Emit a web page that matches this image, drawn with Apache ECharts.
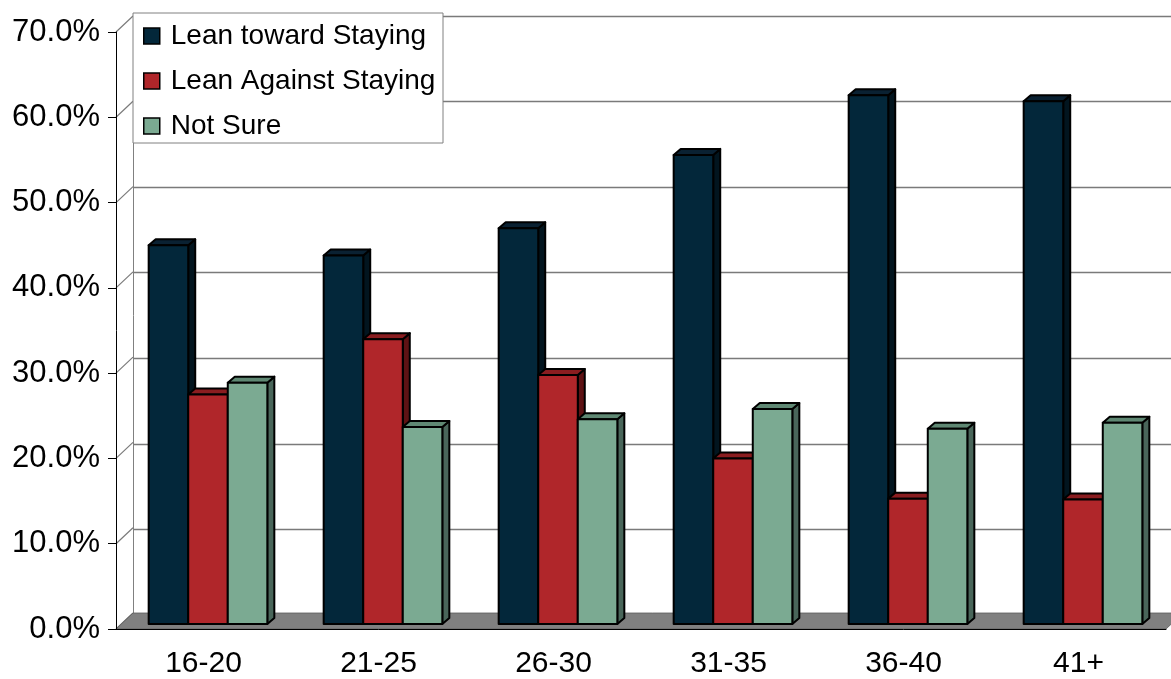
<!DOCTYPE html>
<html>
<head>
<meta charset="utf-8">
<script src="https://cdn.jsdelivr.net/npm/echarts@6/dist/echarts.min.js"></script>
<style>
  html, body { margin: 0; padding: 0; background: #fff; }
  #chart { width: 1171px; height: 679px; }
</style>
</head>
<body>
<div id="chart"></div>
<script>
// Age groups and share of respondents per answer (percent)
const categories = ['16-20', '21-25', '26-30', '31-35', '36-40', '41+'];
const leanToward = [44.4, 43.2, 46.4, 55.0, 62.0, 61.3];
const leanAgainst = [26.9, 33.4, 29.2, 19.4, 14.7, 14.6];
const notSure = [28.3, 23.1, 24.0, 25.2, 22.9, 23.6];
const seriesNames = ['Lean toward Staying', 'Lean Against Staying', 'Not Sure'];
const yMax = 70;
const yStep = 10;

// 3D look: wall depth and bar placement inside it (pixels)
const DEPTH_DX = 17, DEPTH_DY = -16;
const FRONT_DX = 4.5, FRONT_DY = -5;
const BAR_DX = 7, BAR_DY = -6;
const BAR_RATIO = 0.226;
const FONT = "'Liberation Sans', Arial, sans-serif";

const palettes = [
  { front: '#03273A', top: '#0A2132', side: '#02151F' },
  { front: '#B0262A', top: '#8A1D20', side: '#5E1214' },
  { front: '#7BAA92', top: '#5F8873', side: '#49665A' }
];

function barRenderer(idx) {
  const pal = palettes[idx];
  return function (params, api) {
    const c = api.value(0), v = api.value(1);
    const band = api.size([1, 0])[0];
    const bw = band * BAR_RATIO;
    const base = api.coord([c, 0]);
    const top = api.coord([c, v]);
    const x0 = base[0] + (idx - 1.5) * bw + FRONT_DX;
    const x1 = x0 + bw;
    const yb = base[1] + FRONT_DY;
    const yt = top[1] + FRONT_DY;
    const stroke = { stroke: '#000', lineWidth: 2, lineJoin: 'round' };
    return {
      type: 'group',
      children: [
        { type: 'polygon', shape: { points: [[x1, yt], [x1 + BAR_DX, yt + BAR_DY], [x1 + BAR_DX, yb + BAR_DY], [x1, yb]] },
          style: Object.assign({ fill: pal.side }, stroke) },
        { type: 'polygon', shape: { points: [[x0, yt], [x0 + BAR_DX, yt + BAR_DY], [x1 + BAR_DX, yt + BAR_DY], [x1, yt]] },
          style: Object.assign({ fill: pal.top }, stroke) },
        { type: 'rect', shape: { x: x0, y: yt, width: bw, height: yb - yt },
          style: Object.assign({ fill: pal.front }, stroke) }
      ]
    };
  };
}

const seriesValues = [leanToward, leanAgainst, notSure];
const yTickValues = [];
for (let v = 0; v <= yMax; v += yStep) yTickValues.push(v);

const chart = echarts.init(document.getElementById('chart'), null, { renderer: 'canvas' });

const option = {
  animation: false,
  backgroundColor: '#fff',
  grid: [
    { left: 116, top: 32, width: 1050, height: 599 },
    { left: 116 + DEPTH_DX, top: 32 + DEPTH_DY, width: 1050, height: 599 }
  ],
  xAxis: [
    {
      type: 'category', gridIndex: 0, data: categories, z: 5,
      axisLine: { lineStyle: { color: '#000', width: 1 } },
      axisTick: { length: 9, interval: 0, lineStyle: { color: '#000' } },
      axisLabel: { fontSize: 30, fontFamily: FONT, color: '#000', margin: 20, interval: 0 },
      splitLine: { show: false }
    },
    { type: 'value', gridIndex: 1, min: 0, max: 1, show: false }
  ],
  yAxis: [
    {
      type: 'value', gridIndex: 0, min: 0, max: yMax, interval: yStep, z: 5,
      axisLine: { show: true, lineStyle: { color: '#000', width: 1 } },
      axisTick: { show: true, length: 8, lineStyle: { color: '#000' } },
      axisLabel: { fontSize: 31, fontFamily: FONT, color: '#000', margin: 16,
        formatter: v => v.toFixed(1) + '%' },
      splitLine: { show: false }
    },
    {
      type: 'value', gridIndex: 1, min: 0, max: yMax, interval: yStep,
      axisLine: { show: true, lineStyle: { color: '#808080', width: 1 } },
      axisTick: { show: false },
      axisLabel: { show: false },
      splitLine: { show: true, lineStyle: { color: '#7a7a7a', width: 1.3 } }
    }
  ],
  legend: {
    orient: 'vertical', left: 133, top: 13, z: 20,
    padding: [9, 8, 5, 10],
    itemWidth: 16, itemHeight: 16, itemGap: 17,
    icon: 'rect',
    textStyle: { fontSize: 28, lineHeight: 27, fontFamily: FONT, color: '#000', padding: [0, 0, 0, 6] },
    data: seriesNames.map((n, i) => ({
      name: n,
      itemStyle: { color: palettes[i].front, borderColor: '#000', borderWidth: 1.5 }
    }))
  },
  graphic: [
    { type: 'rect', z: 10, shape: { x: 133, y: 13, width: 310, height: 130 },
      style: { fill: '#fff', stroke: '#808080', lineWidth: 1 } }
  ],
  series: [
    {
      // side wall grid lines joining the front axis to the back wall
      type: 'custom', name: 'sideWall', xAxisIndex: 0, yAxisIndex: 0, z: 1, silent: true,
      data: yTickValues.map(v => [0, v]),
      renderItem: function (params, api) {
        const band = api.size([1, 0])[0];
        const p = api.coord([0, api.value(1)]);
        const x = p[0] - band / 2;
        return { type: 'line', shape: { x1: x, y1: p[1], x2: x + DEPTH_DX, y2: p[1] + DEPTH_DY },
          style: { stroke: '#7a7a7a', lineWidth: 1.2 } };
      }
    },
    {
      // floor
      type: 'custom', name: 'floor', xAxisIndex: 0, yAxisIndex: 0, z: 1, silent: true,
      data: [[0, 0]],
      renderItem: function (params, api) {
        const band = api.size([1, 0])[0];
        const a = api.coord([0, 0]);
        const b = api.coord([categories.length - 1, 0]);
        const xl = a[0] - band / 2, xr = b[0] + band / 2, y = a[1];
        return { type: 'polygon',
          shape: { points: [[xl, y], [xl + DEPTH_DX, y + DEPTH_DY], [xr + DEPTH_DX, y + DEPTH_DY], [xr, y]] },
          style: { fill: '#808080', stroke: '#5a5a5a', lineWidth: 0.8 } };
      }
    }
  ].concat(seriesNames.map((name, i) => ({
    type: 'custom', name: name, xAxisIndex: 0, yAxisIndex: 0, z: 2,
    itemStyle: { color: palettes[i].front, borderColor: '#000', borderWidth: 1.5 },
    data: seriesValues[i].map((v, c) => [c, v]),
    renderItem: barRenderer(i)
  })))
};

chart.setOption(option);
</script>
</body>
</html>
